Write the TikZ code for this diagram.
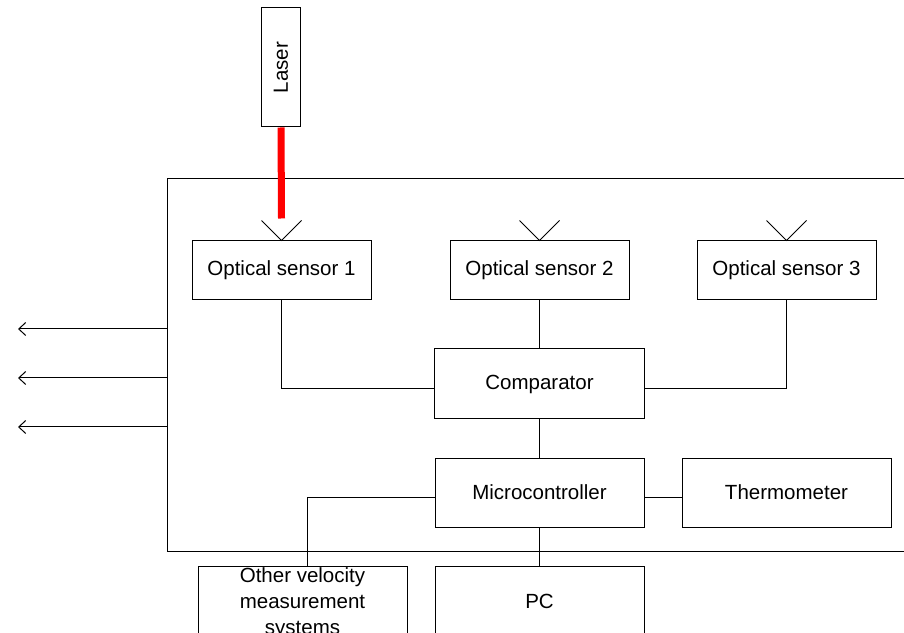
\documentclass[tikz,border=0pt]{standalone}
\usepackage{fontspec}
\setmainfont{Liberation Sans}
\usepackage{tikz}
\usetikzlibrary{positioning,arrows.meta}
\usepackage{xcolor}

\begin{document}
\begin{tikzpicture}[%
    x=1pt,
    y=1pt,
    line width=1pt,
    block/.style={%
      rectangle,
      draw,
      minimum width=209pt,
      minimum height=69pt,
      inner sep=2pt,
      align=center,
      font=\fontsize{20.5}{26}\selectfont
    },
    sensor/.style={%
      block,
      minimum width=179pt,
      minimum height=59pt
    },
    beam/.style={%
      red,
      line width=7pt
    },
    outline/.style={%
      -{Straight Barb[length=7pt,width=13pt,line width=1pt]}
    }
  ]
    \useasboundingbox (0,0) rectangle (904,632);
    \clip (0,0) rectangle (904,632);

    \draw (930,453) -| (167,81) -- (930,81);

    \node[sensor] (s1) at (281.5,361.5)                  {Optical sensor 1};
    \node[sensor] (s2) [right=78pt of s1]                {Optical sensor 2};
    \node[sensor] (s3) [right=67pt of s2]                {Optical sensor 3};
    \node[block, minimum width=210pt, minimum height=70pt] (comp) [below=48pt of s2] {Comparator};
    \node[block] (micro) [below=38pt of comp]            {Microcontroller};
    \node[block] (thermo) [right=37pt of micro]          {Thermometer};
    \node[block, minimum height=70pt] (pc) [below=38pt of micro] {PC};
    \node[block, minimum height=70pt] (other) [left=27pt of pc.north west, anchor=north east] {Other velocity\\measurement\\systems};
    \node[block, rotate=90, minimum width=119pt, minimum height=39pt] (laser) at (281,564.5) {Laser};

    \coordinate (hit) at ([yshift=22pt]s1.north);
    \draw[beam] (laser.west) -- (hit);

    \draw ([shift={(-20pt,20pt)}]s1.north) -- (s1.north) -- ([shift={(20pt,20pt)}]s1.north);
    \draw ([shift={(-20pt,20pt)}]s2.north) -- (s2.north) -- ([shift={(20pt,20pt)}]s2.north);
    \draw ([shift={(-20pt,20pt)}]s3.north) -- (s3.north) -- ([shift={(20pt,20pt)}]s3.north);

    \draw (s1.south) |- ([yshift=-5pt]comp.west);
    \draw (s2.south) -- (comp.north);
    \draw (s3.south) |- ([yshift=-5pt]comp.east);
    \draw (comp.south) -- (micro.north);
    \draw ([yshift=-5pt]micro.east) -- ([yshift=-5pt]thermo.west);
    \draw ([yshift=-5pt]micro.west) -| ([xshift=5pt]other.north);
    \draw (micro.south) -- (pc.north);

    \coordinate (f1) at (167,303);
    \coordinate (f2) at (167,254);
    \coordinate (f3) at (167,205);
    \coordinate (o1) at (18,303);
    \coordinate (o2) at (18,254);
    \coordinate (o3) at (18,205);
    \draw[outline] (f1) -- (o1);
    \draw[outline] (f2) -- (o2);
    \draw[outline] (f3) -- (o3);
  \end{tikzpicture}
\end{document}
